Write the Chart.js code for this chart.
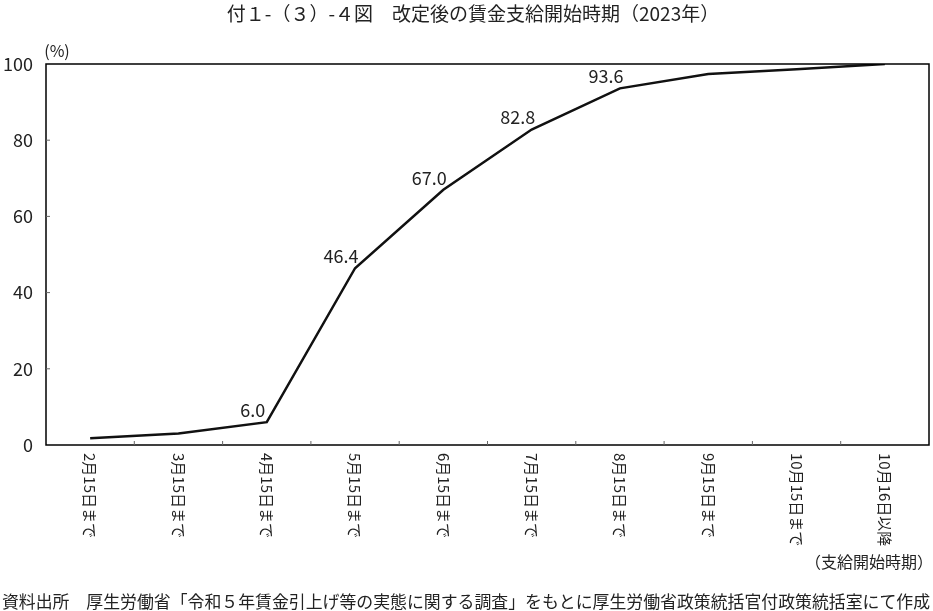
<!DOCTYPE html>
<html><head><meta charset="utf-8">
<script src="https://cdn.jsdelivr.net/npm/chart.js@4/dist/chart.umd.min.js"></script>
<style>html,body{margin:0;padding:0;background:#fff;}#wrap{width:933px;height:611px;}</style>
</head><body><div id="wrap"><canvas id="c" width="933" height="611"></canvas></div>
<script>
const TITLE = "付１-（３）-４図　改定後の賃金支給開始時期（2023年）";
const SOURCE = "資料出所　厚生労働省「令和５年賃金引上げ等の実態に関する調査」をもとに厚生労働省政策統括官付政策統括室にて作成";
const X_AXIS_NOTE = "（支給開始時期）";
const Y_UNIT = "(%)";
const categories = ["2月15日まで","3月15日まで","4月15日まで","5月15日まで","6月15日まで","7月15日まで","8月15日まで","9月15日まで","10月15日まで","10月16日以降"];
const values = [1.8, 3.0, 6.0, 46.4, 67.0, 82.8, 93.6, 97.4, 98.6, 100];
const labelledIndexes = [2, 3, 4, 5, 6];
const yTicks = [0, 20, 40, 60, 80, 100];

const FONT = "'Noto Sans CJK JP', 'Noto Sans', sans-serif";

const decor = {
  id: 'decor',
  afterDraw(chart) {
    const ctx = chart.ctx;
    const a = chart.chartArea;
    const xs = chart.scales.x, ys = chart.scales.y;
    ctx.save();
    ctx.strokeStyle = '#000';
    ctx.lineWidth = 1.5;
    ctx.strokeRect(a.left, a.top, a.right - a.left, a.bottom - a.top);
    ctx.lineWidth = 1;
    ctx.strokeStyle = '#666';
    yTicks.forEach(v => {
      if (v === 0 || v === 100) return;
      const y = ys.getPixelForValue(v);
      ctx.beginPath(); ctx.moveTo(a.left, y); ctx.lineTo(a.left + 4, y); ctx.stroke();
    });
    for (let i = 0; i < categories.length - 1; i++) {
      const x = (xs.getPixelForValue(i) + xs.getPixelForValue(i + 1)) / 2;
      ctx.beginPath(); ctx.moveTo(x, a.bottom); ctx.lineTo(x, a.bottom - 4); ctx.stroke();
    }
    ctx.fillStyle = '#222';
    ctx.font = "19px " + FONT;
    ctx.textAlign = 'center'; ctx.textBaseline = 'middle';
    ctx.fillText(TITLE, 473, 14);
    ctx.font = "16px " + FONT;
    ctx.fillText(Y_UNIT, 57, 51);
    ctx.font = "18px " + FONT;
    labelledIndexes.forEach(i => {
      const x = xs.getPixelForValue(i), y = ys.getPixelForValue(values[i]);
      ctx.fillText(values[i].toFixed(1), x - 14, y - 12);
    });
    ctx.font = "15px " + FONT;
    ctx.textAlign = 'left';
    categories.forEach((c, i) => {
      const x = xs.getPixelForValue(i);
      ctx.save();
      ctx.translate(x, a.bottom + 8);
      ctx.rotate(Math.PI / 2);
      ctx.fillText(c, 0, 0);
      ctx.restore();
    });
    ctx.font = "16px " + FONT;
    ctx.textAlign = 'right';
    ctx.fillText(X_AXIS_NOTE, 933, 562);
    ctx.textAlign = 'left';
    ctx.font = "17px " + FONT;
    ctx.fillText(SOURCE, 2, 602, 928);
    ctx.restore();
  }
};

new Chart(document.getElementById('c'), {
  type: 'line',
  data: {
    labels: categories,
    datasets: [{
      data: values,
      borderColor: '#111',
      borderWidth: 2.5,
      pointRadius: 0,
      tension: 0,
      fill: false
    }]
  },
  options: {
    responsive: false,
    animation: false,
    devicePixelRatio: 1,
    layout: { padding: { top: 64, right: 4, bottom: 166, left: 0 } },
    plugins: { legend: { display: false }, tooltip: { enabled: false }, title: { display: false } },
    scales: {
      x: {
        type: 'category',
        offset: true,
        grid: { display: false, drawTicks: false },
        border: { display: false },
        ticks: { display: false }
      },
      y: {
        min: 0, max: 100,
        afterFit: s => { s.width = 46; },
        afterBuildTicks: s => { s.ticks = yTicks.map(v => ({ value: v })); },
        grid: { display: false, drawTicks: false },
        border: { display: false },
        ticks: { padding: 13, color: '#222', font: { size: 18, family: FONT } }
      }
    }
  },
  plugins: [decor]
});
</script>
</body></html>
